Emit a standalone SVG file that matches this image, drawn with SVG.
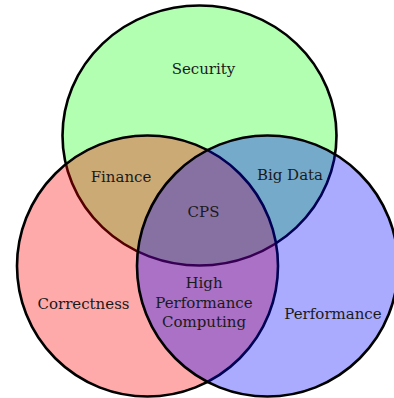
<svg xmlns="http://www.w3.org/2000/svg" width="394" height="398" viewBox="0 0 394 398">
  <style>
    .set { stroke: #000; stroke-width: 2.6; }
    .label { font-family: "DejaVu Serif", "Liberation Serif", serif; font-size: 15px; fill: #1a1a1a; text-anchor: middle; }
  </style>
  <rect width="394" height="398" fill="#fff"/>
  <!-- three translucent sets, painted in order so later fills tint earlier outlines -->
  <g id="security">
    <ellipse class="set" cx="199.5" cy="135.5" rx="137" ry="130" fill="#00ff00" fill-opacity="0.3"/>
    <text class="label" x="203.5" y="74">Security</text>
  </g>
  <g id="correctness">
    <circle class="set" cx="147.5" cy="266" r="130.5" fill="#ff0000" fill-opacity="0.333"/>
    <text class="label" x="83.5" y="309">Correctness</text>
  </g>
  <g id="performance">
    <circle class="set" cx="267.5" cy="266" r="130.5" fill="#0000ff" fill-opacity="0.333"/>
    <text class="label" x="333" y="318.5">Performance</text>
  </g>
  <!-- overlap labels -->
  <g id="finance">
    <text class="label" x="121" y="182">Finance</text>
  </g>
  <g id="big-data">
    <text class="label" x="290" y="180">Big Data</text>
  </g>
  <g id="cps">
    <text class="label" x="203.5" y="217">CPS</text>
  </g>
  <g id="hpc">
    <text class="label" x="204" y="288">High</text>
    <text class="label" x="204" y="307.5">Performance</text>
    <text class="label" x="204" y="326.5">Computing</text>
  </g>
</svg>
